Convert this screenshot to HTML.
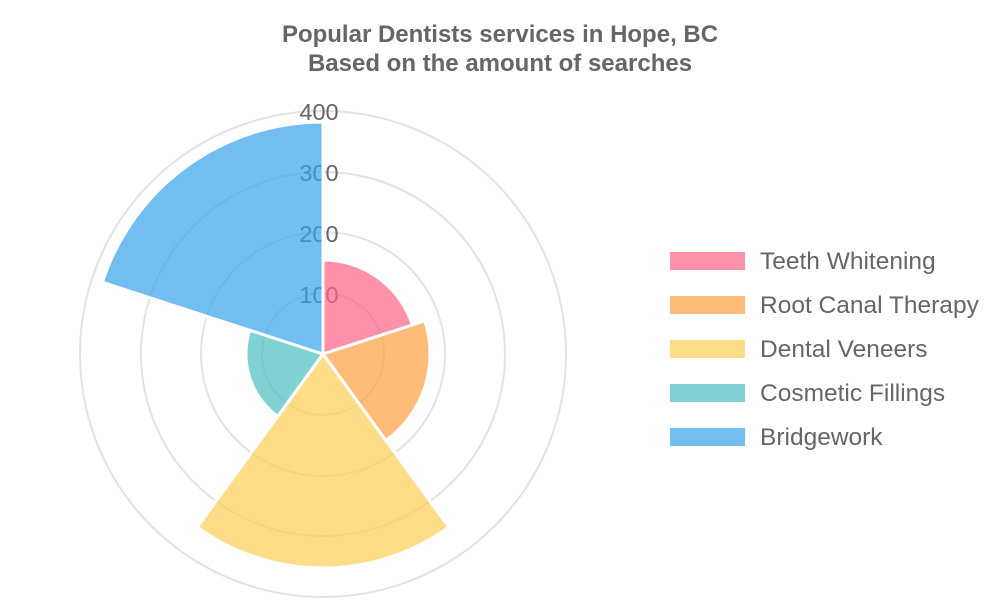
<!DOCTYPE html>
<html><head><meta charset="utf-8"><style>
body{margin:0;background:#fff;}
svg text{font-family:"Liberation Sans",sans-serif;}
</style></head><body>
<svg width="1000" height="600" viewBox="0 0 1000 600">
<text x="500" y="42" text-anchor="middle" font-size="24" font-weight="bold" fill="#666">Popular Dentists services in Hope, BC</text>
<text x="500" y="71" text-anchor="middle" font-size="24" font-weight="bold" fill="#666">Based on the amount of searches</text>
<g fill="none" stroke="#e3e3e3" stroke-width="2">
<circle cx="323" cy="354" r="61"/><circle cx="323" cy="354" r="122"/><circle cx="323" cy="354" r="182"/><circle cx="323" cy="354" r="243"/>
</g>
<g font-size="23.5" fill="#666" text-anchor="middle">
<text x="319" y="120">400</text><text x="319" y="181">300</text><text x="319" y="242">200</text><text x="319" y="303">100</text>
</g>
<g stroke="#fff" stroke-width="3" stroke-linejoin="round">
<path d="M323,354 L323,260 A94,94 0 0 1 412.4,325 Z" fill="rgba(255,99,132,0.7)"/>
<path d="M323,354 L424.8,321 A107,107 0 0 1 385.9,440.6 Z" fill="rgba(255,159,64,0.7)"/>
<path d="M323,354 L448.8,527.1 A214,214 0 0 1 197.2,527.1 Z" fill="rgba(255,205,86,0.7)"/>
<path d="M323,354 L277.7,416.3 A77,77 0 0 1 249.8,330.2 Z" fill="rgba(75,192,192,0.7)"/>
<path d="M323,354 L102.4,282.3 A232,232 0 0 1 323,122 Z" fill="rgba(54,162,235,0.7)"/>
</g>
<g font-size="24.5" fill="#666">
<rect x="670" y="252" width="75" height="18" fill="rgba(255,99,132,0.7)"/><text x="760" y="269">Teeth Whitening</text>
<rect x="670" y="296" width="75" height="18" fill="rgba(255,159,64,0.7)"/><text x="760" y="313">Root Canal Therapy</text>
<rect x="670" y="340" width="75" height="18" fill="rgba(255,205,86,0.7)"/><text x="760" y="357">Dental Veneers</text>
<rect x="670" y="384" width="75" height="18" fill="rgba(75,192,192,0.7)"/><text x="760" y="401">Cosmetic Fillings</text>
<rect x="670" y="428" width="75" height="18" fill="rgba(54,162,235,0.7)"/><text x="760" y="445">Bridgework</text>
</g>
</svg>
</body></html>
